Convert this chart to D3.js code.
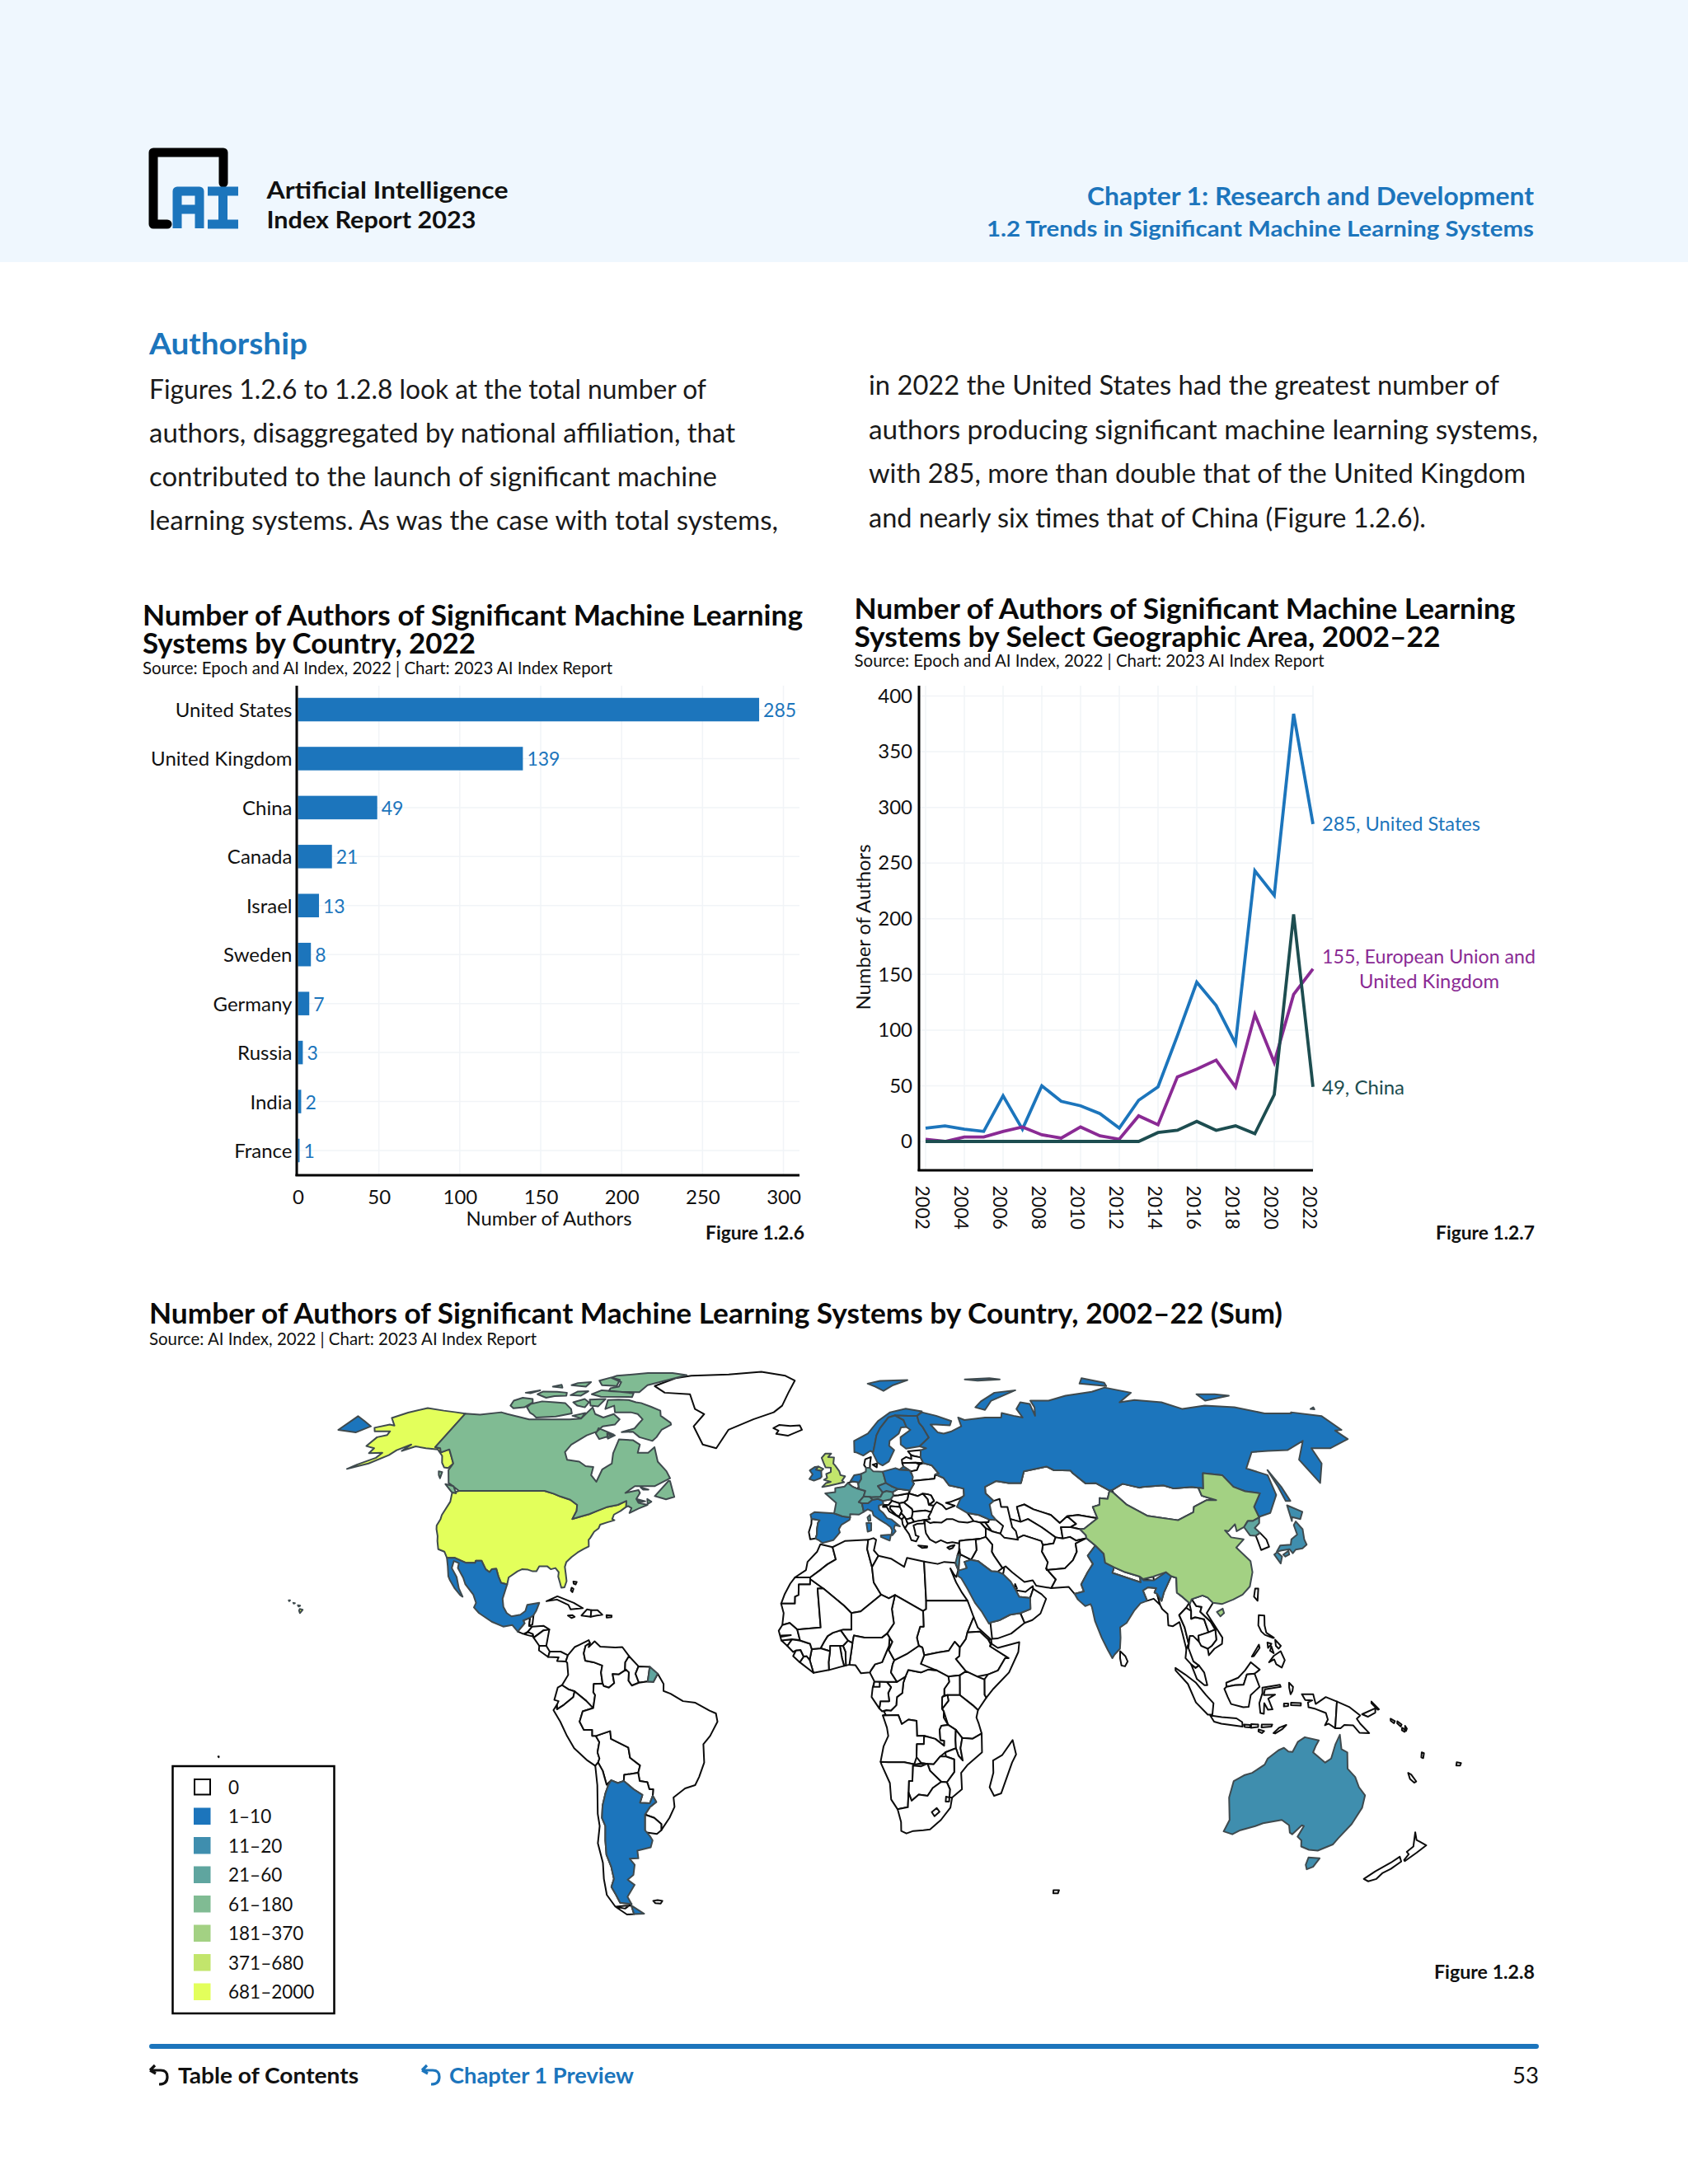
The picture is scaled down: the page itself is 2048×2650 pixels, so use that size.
<!DOCTYPE html>
<html><head><meta charset="utf-8"><title>AI Index figures</title>
<script src="https://d3js.org/d3.v7.min.js"></script>
<style>html,body{margin:0;padding:0;background:#fff}svg{display:block}text{font-family:Lato,"Open Sans",sans-serif;fill:#111;font-kerning:normal}</style>
</head><body><svg id="page" width="2048" height="2650"></svg>
<script>
// ---------- data: bar chart ----------
const barCountries=["United States","United Kingdom","China","Canada","Israel","Sweden","Germany","Russia","India","France"];
const barValues=[285,139,49,21,13,8,7,3,2,1];
const barTicks=[0,50,100,150,200,250,300];
// ---------- data: line chart ----------
const years=[2002,2003,2004,2005,2006,2007,2008,2009,2010,2011,2012,2013,2014,2015,2016,2017,2018,2019,2020,2021,2022];
const usAuthors=[12,14,11,9,41,11,50,36,32,25,12,37,49,95,143,122,88,243,221,384,285];
const euAuthors=[2,0,4,4,9,13,6,3,13,5,2,23,15,58,65,73,49,114,71,132,155];
const cnAuthors=[0,0,0,0,0,0,0,0,0,0,0,0,8,10,18,10,14,7,42,204,49];
const lineYTicks=[0,50,100,150,200,250,300,350,400];
const lineXTicks=[2002,2004,2006,2008,2010,2012,2014,2016,2018,2020,2022];
// ---------- data: map legend ----------
const legendLabels=["0","1–10","11–20","21–60","61–180","181–370","371–680","681–2000"];
const legendColors=["#ffffff","#1c75bc","#3f8eae","#5fa59f","#80bb93","#a3d183","#c2e56c","#e3ff5b"];
// ---------- data: Robinson-like projection table ----------
const robLat=[0,5,10,15,20,25,30,35,40,45,50,55,60,65,70,75,80,85,90];
const robLen=[1,.9986,.9954,.99,.9822,.973,.96,.9427,.9216,.8962,.875,.85,.815,.79,.75,.735,.71,.69,.67];
const robHgt=[0,.062,.124,.186,.248,.31,.372,.434,.4958,.5571,.6176,.6769,.7346,.7903,.8435,.8936,.9394,.9761,1];
// ---------- data: countries, [name, legend bin, rings of lon,lat ] ----------
const northAmerica=[
["United States",7,[[-124.7,48.4,-122.8,49,-95.2,49,-92,48.3,-89.5,47.6,-86,46.8,-83.3,45.5,-82.8,44,-83.2,42,-81,42.6,-78.5,43.2,-76.4,44,-73.5,45,-70.4,45.5,-68,46.5,-67.6,45,-69,44,-70.7,43.1,-70.8,42,-70,41.7,-72,41.2,-74,40.6,-74.1,39.7,-75.2,38.9,-75.9,37.3,-76.2,36.9,-75.6,35.3,-77,34.6,-78.5,33.8,-80,32.7,-81.2,31.5,-81.3,30.3,-80.6,28.5,-80,26.8,-80.3,25.3,-81.2,25.2,-81.9,26.5,-82.7,27.9,-82.8,29,-84,30,-85.3,29.7,-86.5,30.4,-88.9,30.4,-89.4,29.2,-90.5,29.2,-92,29.6,-93.8,29.7,-95,29.2,-97.2,27.7,-97.2,26,-99.1,26.4,-100.3,28,-101.4,29.8,-102.7,29.7,-103.2,29,-104.5,29.7,-106.5,31.8,-108.2,31.8,-108.2,31.3,-111,31.3,-114.8,32.5,-117.1,32.5,-118.5,34,-120.6,34.6,-121.9,36.6,-122.5,37.8,-123.8,39.5,-124.3,40.4,-124.2,42,-124.5,43,-124,46.3],
[-141,69.6,-141,60.3,-139,60,-137.5,58.9,-135.5,59.7,-133.5,58.4,-130,56,-130.5,54.8,-132,55,-134,56.2,-136,58,-139.5,59.7,-144,60,-148,60.5,-151.5,59.3,-150,61,-153.5,59.5,-154.5,58.2,-158.5,56,-164,54.6,-162,55.7,-158,57.5,-157.5,58.8,-162,58.7,-162,60,-165.3,60.6,-164,63,-161,63.6,-161,64.6,-166.5,64.6,-168,65.6,-164,66.5,-161.8,66.2,-166.5,68.4,-163,69.9,-156.6,71.3,-150,70.5,-145,70],
[-155.9,20,-155,19.8,-155.6,19,-156,19.6],[-156.7,20.9,-156,20.8,-156.4,20.6],[-158.2,21.5,-157.7,21.4,-158,21.3],[-159.7,22.1,-159.3,22.1,-159.5,21.9]]],
["Canada",4,[[-141,69.6,-135,69.3,-128,70,-125,69.5,-115,68,-108,68,-100,68,-96,68.2,-94,71.5,-92,69.5,-88,68.5,-85,69.5,-81.5,68,-82,66.5,-86,66,-87,64.5,-90,63.5,-94,61,-94.8,59,-92.5,57,-88,56.5,-85,55.3,-82.3,55.1,-82,53,-79.5,51.3,-79,54.5,-76.7,56,-78,58.7,-78,62.4,-73,62.2,-70,61,-69.6,58.8,-66,58.8,-64.6,60.3,-61.5,56.5,-57.5,54,-55.7,52.2,-60,50.2,-66.5,50.2,-69,48.5,-65,49.2,-64.3,48.5,-65,47,-64,46,-61,45.5,-63.5,44.6,-66,43.5,-65.8,44.7,-67,45.2,-67.6,45,-68,46.5,-70.4,45.5,-73.5,45,-76.4,44,-78.5,43.2,-81,42.6,-83.2,42,-82.8,44,-83.3,45.5,-86,46.8,-89.5,47.6,-92,48.3,-95.2,49,-122.8,49,-125,50,-127.5,51,-130,54.3,-130,56,-133.5,58.4,-135.5,59.7,-137.5,58.9,-139,60,-141,60.3],
[-128.3,50.7,-125.3,50.2,-123.4,48.4,-125,48.7],[-59.3,47.7,-56,51.5,-55.5,51.5,-53,47.5,-55.5,46.9],[-133,54,-131.7,53.8,-131.2,52.2,-132.2,53],[-64.5,49.9,-61.8,49.3,-63.5,49.3],[-64.5,46.9,-62,46.4,-63.5,46.2],[-61.5,47,-60,46.3,-61,45.7],
[-89,73.7,-85,73.8,-81,73.7,-78,73,-76,72.8,-72,71.7,-68,70.5,-67,69,-62,67,-61.5,66.5,-64,65,-65,63,-66,62,-71,63,-74,64.5,-78,64.4,-74,65.4,-73.5,66.8,-73,68,-76,69.5,-79,70,-85,70,-86,72,-89,71],
[-117,69.9,-115,69.3,-113,68.5,-106,68.8,-101,69.7,-102,71,-105,72.8,-109,73,-114,73.3,-118,72.5,-119,71.5],[-125.5,72,-124,71.2,-120,71.5,-117.5,73,-118,74,-122,74.4,-125,73.5],
[-90,76.5,-85,76.3,-78,76.2,-76,78.5,-68,80.5,-62,82.3,-68,83.1,-78,83.1,-90,82,-92,81.2,-87,79.5,-87,78,-90,77.5],[-96,75.5,-92,74.7,-80,74.6,-80,75.8,-88,76.5,-93,76.8],[-96,80,-94,78.5,-88,78.2,-88,80.3,-92,81.3],
[-117,75.5,-115.5,76.4,-110,76.3,-106,76,-105.5,75,-110,74.9,-113,74.4],[-122,76,-117,76.8,-120,75.8],[-104,75.2,-100,75,-98,76.5,-102,76.4],[-102,73,-98,74,-96,73,-97,71.5,-100,72],[-96,73.8,-90,74,-92,71.8,-95,72],[-87,65.5,-80.5,63.7,-85,62.5,-87,64],[-106,78.5,-100,78,-99,79.5,-104,79.2],[-100,69,-96,69.8,-96,68.3],[-83,64,-80,63.5,-82,62.6],[-113,78,-109,77.7,-110,78.6]]],
["Greenland",0,[[-73,78.2,-66,81,-60,82,-45,82.5,-32,83.6,-22,82,-18,80,-20,76,-22,72,-25,70,-32,68,-40,65,-43,60,-48,61,-53,66,-51,69.5,-55,71,-58,75.5,-68,76]]],
["Mexico",1,[[-117.1,32.5,-114.8,32.5,-111,31.3,-108.2,31.3,-108.2,31.8,-106.5,31.8,-104.5,29.7,-103.2,29,-102.7,29.7,-101.4,29.8,-100.3,28,-99.1,26.4,-97.2,26,-97.8,22.5,-97.2,20.5,-96,19,-94.5,18.2,-92,18.6,-90.7,19.5,-90.4,21,-87,21.5,-87.6,19.5,-88.2,18.5,-89.1,17.9,-91,17.2,-90.5,16.5,-92.2,14.5,-94,16.1,-96.5,15.7,-100,16.9,-104,19,-105.7,20.4,-105.3,21.5,-106.5,23.5,-109.4,26,-110.5,27.6,-112.8,30,-113,31.2,-114.7,31.7,-114.6,30,-112.5,27.8,-111,25,-109.5,23,-110.3,23.4,-112.2,25,-114.2,27,-115,28,-116,30.5]]],
["Guatemala",0,[[-92.2,14.5,-90.5,13.9,-89.3,14.4,-88.2,15.7,-89.1,15.9,-89.1,17.9,-91,17.2,-90.5,16.5]]],
["Belize",0,[[-89.1,17.9,-88.2,18.5,-88.2,16.2,-89.1,15.9]]],
["El Salvador",0,[[-90.1,13.8,-87.8,13.3,-87.8,13.9,-89.3,14.4]]],
["Honduras",0,[[-89.3,14.4,-87.8,13.9,-87.5,13,-84.8,14.8,-83.2,15,-85,15.9,-88.2,15.7]]],
["Nicaragua",0,[[-87.5,13,-85.7,11,-83.7,11,-83.2,15,-84.8,14.8]]],
["Costa Rica",0,[[-85.7,11,-83.7,11,-82.6,9.6,-83,8.3,-85.7,9.9]]],
["Panama",0,[[-83,8.3,-82.6,9.6,-79.5,9.6,-77.4,8.7,-77.9,7.2,-80.4,7.3,-80,8.2]]],
["Cuba",0,[[-85,21.9,-82,23.1,-77,21.5,-74.2,20.2,-77.7,19.9,-78.5,21,-82,22.3]]],
["Haiti",0,[[-74.4,18.4,-73,19.9,-71.7,19.7,-71.7,18.1]]],["Dominican Republic",0,[[-71.7,19.7,-69.9,19.7,-68.4,18.6,-70,18.4,-71.7,18.1]]],
["Jamaica",0,[[-78.3,18.4,-77,18.5,-76.3,18.1,-77.2,17.8]]],["Puerto Rico",0,[[-67.2,18.5,-65.7,18.4,-65.7,18,-67.1,17.9]]],["Bahamas",0,[[-78,26.7,-77,26.6,-77.2,26,-77.8,26.2],[-78.2,25.2,-77.6,24.9,-77.8,24.1,-78.3,24.5]]]];
const southAmerica=[
["Colombia",0,[[-77.4,8.7,-75.6,10.7,-74.2,11.3,-71.7,12.4,-71.3,11.7,-72.5,11,-72.9,9.2,-72.4,7.4,-70,7,-67.5,6.2,-67.8,4.5,-67.3,1.8,-69.8,1.7,-69.9,-0.3,-69.4,-1,-70,-4.2,-72,-2.4,-75.2,-0.1,-77,0.4,-78.8,1.4,-77.1,3.9,-77.5,6.9,-77.9,7.2]]],
["Venezuela",0,[[-71.3,11.7,-71.6,10.7,-70,12.1,-68.3,10.8,-64,10.6,-62,10.7,-60,8.5,-61,7,-61,5.2,-60.7,5.2,-62.8,4,-64.5,4.1,-64,1.9,-65.5,.8,-67,1.2,-67.3,1.8,-67.8,4.5,-67.5,6.2,-70,7,-72.4,7.4,-72.9,9.2,-72.5,11]]],
["Guyana",0,[[-60,8.5,-57.2,6,-58,4.2,-57,2,-59,1.3,-60,2.5,-59.9,4.5,-61,5.2,-61,7]]],
["Suriname",0,[[-57.2,6,-54,5.9,-54.5,2.3,-57,2,-58,4.2]]],
["French Guiana",3,[[-54,5.9,-51.7,4.2,-52.9,2.2,-54.5,2.3]]],
["Ecuador",0,[[-78.8,1.4,-77,.4,-75.2,-.1,-75.6,-1.5,-78.3,-3.4,-80.3,-4.5,-80.3,-3.4,-79.8,-2.5,-81,-2.2,-80,.8]]],
["Peru",0,[[-81.3,-4.7,-80.3,-3.4,-80.3,-4.5,-78.3,-3.4,-75.6,-1.5,-75.2,-.1,-72,-2.4,-70,-4.2,-73,-5,-74,-7.5,-72.9,-9.5,-70.5,-9.5,-70.6,-11,-69.6,-11,-68.7,-12.5,-69.4,-15,-69,-16.5,-69.5,-17.5,-70.4,-18.3,-72.5,-17,-76,-14,-77.8,-11,-79.5,-7.5]]],
["Bolivia",0,[[-69.6,-11,-68.7,-12.5,-69.4,-15,-69,-16.5,-69.5,-17.5,-68.4,-19.5,-67.7,-22.9,-66.2,-21.8,-64.4,-22.5,-62.6,-22,-62.3,-20.5,-58.2,-20,-57.5,-18.2,-60.2,-16.3,-60.5,-13.8,-65.3,-11.7,-65.4,-9.8]]],
["Brazil",0,[[-51.7,4.2,-50,1.7,-50,0,-48,-.7,-44.5,-2.5,-41,-2.9,-37,-4.8,-35.2,-5.5,-34.8,-7.5,-37,-11,-39,-13,-39,-17.5,-40.7,-21,-42,-23,-45,-23.8,-48.6,-26,-48.6,-28.3,-50.5,-31,-53.5,-34,-53.2,-32.5,-55,-31,-57.6,-30.2,-55.9,-28.4,-53.8,-27.1,-54.6,-25.6,-54.3,-24,-55.4,-24,-55.8,-22.3,-58,-22,-58.2,-20,-57.5,-18.2,-60.2,-16.3,-60.5,-13.8,-65.3,-11.7,-65.4,-9.8,-69.6,-11,-70.6,-11,-70.5,-9.5,-72.9,-9.5,-74,-7.5,-73,-5,-70,-4.2,-69.4,-1,-69.9,-.3,-69.8,1.7,-67.3,1.8,-67,1.2,-65.5,.8,-64,1.9,-64.5,4.1,-62.8,4,-60.7,5.2,-59.9,4.5,-60,2.5,-59,1.3,-57,2,-54.5,2.3,-52.9,2.2]]],
["Paraguay",0,[[-62.6,-22,-62.3,-20.5,-58.2,-20,-58,-22,-55.8,-22.3,-55.4,-24,-54.3,-24,-54.6,-25.6,-55.7,-27.4,-58.6,-27.3,-57.6,-25.4,-60,-24]]],
["Uruguay",0,[[-58.4,-34,-57.6,-30.2,-55,-31,-53.2,-32.5,-53.5,-34,-55,-34.9,-58.4,-34.5]]],
["Chile",0,[[-69.5,-17.5,-70.4,-18.3,-70.4,-23,-71.5,-30,-71.7,-33,-73.5,-37.2,-73.7,-42,-75,-46,-75.5,-50,-74,-53,-71,-53.5,-68.4,-52.3,-72,-52,-72.5,-50,-73.3,-48,-71.8,-46,-71.5,-43,-71.8,-40,-71,-36.5,-70,-33,-70.5,-31,-69.7,-28,-68.3,-25,-67.2,-23,-67.7,-22.9,-68.4,-19.5],[-68.6,-52.7,-68.6,-54.9,-71,-55,-74,-53,-71,-52.8]]],
["Argentina",1,[[-66.2,-21.8,-64.4,-22.5,-62.6,-22,-60,-24,-57.6,-25.4,-58.6,-27.3,-55.7,-27.4,-54.6,-25.6,-53.8,-27.1,-55.9,-28.4,-57.6,-30.2,-58.4,-34,-57.2,-35.5,-56.7,-36.5,-57.7,-38.2,-62,-39,-62.3,-40.9,-65,-41,-64,-42.5,-65.3,-45,-67.5,-46.2,-65.7,-47.5,-69,-50.5,-68.4,-52.3,-72,-52,-72.5,-50,-73.3,-48,-71.8,-46,-71.5,-43,-71.8,-40,-71,-36.5,-70,-33,-70.5,-31,-69.7,-28,-68.3,-25,-67.2,-23],[-68.6,-52.7,-65.2,-54.8,-68.6,-54.9]]],
["Falkland Islands",0,[[-61,-51.5,-59.5,-51.3,-58,-51.5,-58.8,-52.2,-60.5,-52.1]]]];
const europe=[
["Iceland",0,[[-24,65.5,-22,66.4,-18,66.1,-14.6,66.3,-13.6,65,-18.5,63.4,-22.7,63.9,-22,64.8]]],
["United Kingdom",6,[[-5.7,50,-3.5,50.3,1.4,51.2,.7,51.6,1.7,52.7,.2,53,-.2,54,-1.6,55.5,-2.2,56,-2,57.6,-4,57.7,-3,58.6,-5,58.6,-6.2,57.5,-5.5,56.2,-4.8,55,-3,54.9,-3,53.8,-4.5,53.3,-4.2,52.3,-5.2,51.8,-3,51.3,-4.5,51],[-7.2,55.2,-5.5,54.6,-6.2,54.1,-8,54.4]]],
["Ireland",1,[[-10,52,-9,53.2,-10,54.2,-8.3,55.1,-7.2,55.2,-8,54.4,-6.2,54.1,-6,52.6,-6.5,52.2,-8.5,51.6]]],
["Portugal",0,[[-8.8,42,-8.2,42,-6.3,41.7,-6.8,41,-7,39.6,-7,38.2,-7.4,37.2,-9,37,-9.5,38.8,-8.8,40.8]]],
["Spain",1,[[-9.2,43.1,-8,43.7,-1.8,43.4,.7,42.7,3.2,42.4,3,41.8,.5,40.6,-.3,39.5,0,38.7,-2,36.8,-5.3,36.1,-6.4,36.8,-7.4,37.2,-7,38.2,-7,39.6,-6.8,41,-6.3,41.7,-8.2,42,-8.8,42]]],
["France",3,[[-1.8,43.4,-1.2,46,-4.7,48.4,-1.5,48.7,-1.5,49.7,1.5,50.1,2.6,51,4.2,50,5.8,49.5,8.2,49,7.6,47.6,6,46.2,7,45.9,7.5,43.8,6,43.1,3.2,43.2,3.2,42.4,.7,42.7]]],
["Belgium",0,[[2.6,51,4.2,51.4,5.9,51.2,6.1,50.2,5.8,49.5,4.2,50]]],
["Netherlands",1,[[3.4,51.4,4.7,53,7,53.3,7,52,6,50.8,5.9,51.2,4.2,51.4]]],
["Germany",3,[[6,50.8,7,52,7,53.3,8.6,53.9,8.7,54.9,10,54.8,11,54,14.2,53.9,14.6,52.5,15,51,12.3,50.2,13.8,48.6,13,47.5,10,47.4,7.6,47.6,8.2,49,6.2,49.5]]],
["Switzerland",3,[[6,46.2,7.6,47.6,9.6,47.5,10.4,46.8,9,45.9,7,45.9]]],
["Italy",1,[[7,45.9,9,45.9,10.4,46.8,12.2,47,13.7,46.5,13.7,45.7,12.3,45.3,12.4,44.3,13.6,43.5,14.7,42.2,16.1,41.9,18.5,40.2,17,40.5,16.6,39.7,17.1,39,16,38,15.7,38.1,16,39.2,15.6,40,14.2,40.9,12.4,41.8,10.5,42.9,10.2,43.9,8.8,44.4,7.5,43.8],[12.5,38,15.6,38.2,15.1,36.7,12.5,37.6],[8.2,41,9.7,41,9.6,39.2,8.5,38.9]]],
["Corsica",3,[[8.6,42.4,9.4,43,9.5,41.6,8.9,41.5]]],
["Austria",3,[[9.6,47.5,10,47.4,13,47.5,13.8,48.6,15,49,17,48.7,17.1,47.8,16.2,46.9,13.7,46.5,12.2,47,10.4,46.8]]],
["Czechia",2,[[12.3,50.2,15,51,16.7,50.2,18.8,49.5,17,48.7,15,49,13.8,48.6]]],
["Poland",1,[[14.2,53.9,18.5,54.8,19.8,54.4,23.2,54.2,24,52.5,23.6,51.5,24.1,50.8,22.6,49.1,18.8,49.5,16.7,50.2,15,51,14.6,52.5]]],
["Denmark",0,[[8.1,55.6,8.6,57.1,10.6,57.7,10.2,56.3,10,54.8,8.7,54.9],[11,55.7,12.5,56,12.3,55]]],
["Norway",1,[[5,59,5,62,10,64,14,67.5,19,70,25,71.1,31,70.3,28.9,69,25.7,69,20.6,69.1,18,68.5,14.5,65.5,13,63.5,12.2,61,11.5,59,10.5,59.3,8,58.1,5.7,58.9],[11,79,16,79.9,27,80.2,21,78.5,17,76.6,14,78]]],
["Sweden",1,[[11.2,59,12.7,56.2,14.3,55.5,16.5,56.5,18.8,59.5,17.2,60.7,17.5,62,21,64,22.1,65.7,24.1,65.8,23.5,67.8,20.6,69.1,18,68.5,14.5,65.5,13,63.5,12.2,61,11.5,59]]],
["Finland",1,[[20.6,69.1,25.7,69,28.9,69,29,67,30,65.7,31.5,62.9,27.8,60.5,23,59.9,21.3,61,21.5,63,25.3,65,24.1,65.8,23.5,67.8]]],
["Estonia",0,[[23.5,59.2,28,59.5,27.5,57.6,25,58,24.3,58.3]]],
["Latvia",0,[[21,57,22.6,57.7,24.3,57.2,24.3,58.3,25,58,27.5,57.6,28.1,56.1,25.6,56.2,21,56.1]]],
["Lithuania",0,[[21,56.1,25.6,56.2,26.6,55.7,25.6,54.3,23.5,53.95,22.8,54.4,21.2,55.2]]],
["Belarus",0,[[23.5,53.95,25.6,54.3,26.6,55.7,28.1,56.1,30.8,55.5,32.7,53.4,31.5,53.2,31,52.1,23.6,51.5,23.9,52.7]]],
["Ukraine",0,[[24.1,50.8,23.6,51.5,31,52.1,31.5,53.2,34,52.3,35.5,50.4,40,49.6,39.8,47.8,38.2,47.1,35,46.2,33.7,46,36.4,45.3,33.5,44.4,32.5,45.4,30.8,46.2,29.7,45.3,28.2,45.5,30,46.5,29.2,47.9,28,48.2,26.6,48.3,24.9,47.7,22.1,48.4,22.6,49.1]]],
["Moldova",0,[[26.6,48.3,28,48.2,29.2,47.9,30,46.5,28.2,45.5,28,46.9]]],
["Romania",0,[[22.1,48.4,24.9,47.7,26.6,48.3,28,46.9,28.2,45.5,29.7,45.3,28.6,43.7,27,44.1,22.9,43.8,22.7,44.5,20.3,46.1,21.5,46.8]]],
["Hungary",0,[[16.2,46.9,17.1,47.8,18.8,47.9,22.1,48.4,21.5,46.8,20.3,46.1,18.9,45.9,16.6,46.5]]],
["Slovakia",0,[[17,48.7,18.8,49.5,22.6,49.1,22.1,48.4,18.8,47.9,17.1,47.8]]],
["Slovenia",0,[[13.7,46.5,16.2,46.9,16.6,46.5,15.5,45.5,13.7,45.5]]],
["Croatia",0,[[13.7,45.3,14.5,45.3,15.5,45.5,16.6,46.5,18.9,45.9,19,45,16,45.2,15.8,44.6,17.6,43,18.5,42.4,15.5,43.9,14.8,45,13.6,45]]],
["Bosnia",0,[[15.8,44.6,16,45.2,19,45,19.5,44,18.5,42.6,17.6,43]]],
["Serbia",0,[[18.9,45.9,20.3,46.1,22.7,44.5,22.9,43.8,22.4,42.3,20.6,41.9,20.1,42.6,19.2,43.5,19.5,44,19,45]]],
["Montenegro",0,[[18.5,42.6,19.2,43.5,20.1,42.6,19.3,41.9,18.5,42.4]]],
["Albania",0,[[19.3,41.9,20.1,42.6,20.6,41.9,21,40.8,20,39.7,19.4,40.7]]],
["North Macedonia",0,[[20.6,41.9,22.4,42.3,23,41.3,21,40.8]]],
["Bulgaria",0,[[22.9,43.8,27,44.1,28.6,43.7,27.6,42.5,28,42,26.3,41.8,24,41.5,23,41.3,22.4,42.3]]],
["Greece",0,[[20,39.7,21,40.8,23,41.3,24,41.5,26.3,41.8,26,40.9,23.8,40.8,22.7,40.4,23,39,23.1,38,24,37.7,23.1,36.5,21.7,36.8,21.1,38.3],[23.6,35.5,26.3,35.3,26.2,35,24.7,34.9]]],
["Cyprus",0,[[32.3,35,33.5,35.4,34.6,35.6,33.9,34.9,32.9,34.6]]]];
const asia=[
["Russia",1,[[28.9,69,31,70,36,69,41,67.5,40,66.3,35,66.5,33,66.5,35,64.3,37,64,40,64.6,44,66,44,68.5,46,67.8,54,68.5,60,68.5,61,69.8,65,69,68,68.5,67,71,69,73,72.5,72.5,73,69,74,71.5,73,73.5,80,73.5,87,75,98,76.3,104,77.7,113,76,107,73,113,73.7,123,73,130,71,139,72,150,71.5,160,69.7,170,69.7,170.5,70,180,68.9,180,65,177.5,64.8,179.4,62.5,170.5,60,164,60,163,58,162,56,156.5,51,155.7,57,163,62,155,59.5,148,59.3,142,59,135.3,54.7,141,53,140,48,135,43.5,131,42.6,130.7,42.4,131,45,135,48.4,130.6,48.9,127.5,50,126,53,120,53.5,117.5,49.6,114,50,108,49.6,105,50.4,98,50,97,49.8,92,50.8,87.8,49.2,87,49.1,83.3,51,80,50.9,77,53.5,76.5,54.2,71,54.3,69,55.2,61,54,59,51,55,51,51,51.5,47,50,46.8,48.4,49,46.5,47.5,45.6,47.5,43,48.5,41.8,46.4,41.9,43.5,43,40,43.5,37,45,38.5,47,39.8,47.8,40,49.6,35.5,50.4,34,52.3,31.5,53.2,32.7,53.4,30.8,55.5,28.1,56.1,27.5,57.6,28,59.5,30,60,27.8,60.5,31.5,62.9,30,65.7,29,67],
[19.8,54.4,22.8,54.4,21.2,55.2],[51.5,71.5,55,70.7,58,73.5,68.5,76.8,60,76,54,73.3],[50,80.5,60,81,64,80.5,55,80],[95,79,105,78.2,105,79.3,97,81],[138,75.5,145,75.5,150,75,140,73.5],[178.6,71,180,71.5,180,70.9],[142,54.3,143,50,143.5,46.5,142,46.5,142,50],[-180,68.9,-175,67.5,-170,66,-173,64.3,-180,65]]],
["Georgia",0,[[40,43.5,43.5,43,46.4,41.9,46,41.2,43.5,41.1,41.5,41.5]]],
["Armenia",0,[[43.5,41.1,45,41.2,46.5,39,44.8,39.7]]],
["Azerbaijan",0,[[46,41.2,46.4,41.9,48.5,41.8,50.3,40.3,49,38.4,46.5,39,45,41.2]]],
["Turkey",0,[[26.3,41.8,28,41,29.1,41.2,31.4,41.1,33.3,42,35,42,36.9,41.3,39.5,41.1,41.5,41.5,43.5,41.1,44.8,39.7,44.4,37.6,42.4,37.1,38,36.8,36.2,36.6,36,36,34,36.3,32.5,36.1,30.6,36.8,29,36.2,27.3,37,26.3,38.5,26.2,39.5,26.2,40]]],
["Kazakhstan",0,[[47,50,51,51.5,55,51,59,51,61,54,69,55.2,71,54.3,76.5,54.2,77,53.5,80,50.9,83.3,51,87,49.1,85.5,47,83,47.2,82.3,45.5,80,45,80.2,42.2,74.5,43,71,42.7,68,41,66,43,61,44.4,58.5,45.6,56,45,56,41.3,53,42,53,45,51,45,51,47,49,46.5,46.8,48.4]]],
["Uzbekistan",0,[[56,45,58.5,45.6,61,44.4,66,43,68,41,71,42.7,73,40.8,71,40,68,40,67.7,37.2,65.6,37.5,62,40,58.5,42,56,41.3]]],
["Turkmenistan",0,[[53,42,56,41.3,58.5,42,62,40,65.6,37.5,64.5,36,61.2,35.6,61,36.6,56,38,54,37.3,53.9,39,53,40]]],
["Kyrgyzstan",0,[[71,42.7,74.5,43,80.2,42.2,75,39.6,73.7,39.5,71,40,73,40.8]]],
["Tajikistan",0,[[68,40,71,40,73.7,39.5,75,38,74.9,37.3,71.6,36.7,70,37.6,67.7,37.2]]],
["Afghanistan",0,[[61.2,35.6,64.5,36,65.6,37.5,67.7,37.2,70,37.6,71.6,36.7,74.9,37.3,71.2,36,71,34,69.3,31.9,66.4,29.9,61,29.5,60.9,31.5,61.7,31.4,60.5,34]]],
["Iran",0,[[44.8,39.7,46.5,39,49,38.4,50,37.4,54,36.9,54,37.3,56,38,61,36.6,61.2,35.6,60.5,34,61.7,31.4,60.9,29.9,63.3,27.2,61.6,25.1,57.3,25.7,56.5,27,54,26.6,50.8,28.9,49,30.4,48,30,46,33,45.5,34,46,35.7,44.4,37.6]]],
["Iraq",0,[[42.4,37.1,44.4,37.6,46,35.7,45.5,34,46,33,48,30,48.5,29.9,46.5,29.1,44.7,29.2,41,31.7,39,32,41,34.4,41.2,37]]],
["Syria",0,[[36.2,36.6,38,36.8,42.4,37.1,41.2,37,41,34.4,39,32,36,33.3,35.8,34.6]]],
["Lebanon",0,[[35.1,33.1,35.8,33.3,36,34.6,35.9,34.6]]],
["Israel",2,[[34.3,31.3,34.9,29.5,35.5,32,35.8,33.3,35.1,33.1]]],
["Jordan",0,[[35,29.4,36,29.2,37.5,30,37,31.5,39,32,36,33.3,35.5,32]]],
["Saudi Arabia",1,[[34.6,28.1,35,29.4,37.5,30,37,31.5,39,32,41,31.7,44.7,29.2,46.5,29.1,48,28.5,50,26.7,51.2,24.6,52,23,55.2,22.7,55,20,52,19,49,18.6,46,17.3,43.2,16.7,42.8,16.4,40.8,19.5,39.1,21.5,37.2,24.9,35.6,27.5]]],
["Kuwait",0,[[46.5,29.1,48,30,48.5,29.9,48,28.5]]],
["Qatar",0,[[50.8,24.7,51.2,26.1,51.6,25]]],
["United Arab Emirates",0,[[51.2,24.6,54,24.2,56.3,25.6,56.3,24.9,55.2,22.7,52,23]]],
["Oman",0,[[56.3,24.9,58.6,23.6,59.8,22.5,57.8,18.9,55.3,17.3,53,16.6,52,19,55,20,55.2,22.7]]],
["Yemen",0,[[43.2,16.7,46,17.3,49,18.6,52,19,53,16.6,49,14,45,12.8,43.5,12.7]]],
["Pakistan",0,[[61,29.5,66.4,29.9,69.3,31.9,71,34,71.2,36,74.9,37.3,77,35.5,74,33,75,31,73,29,70.5,26,71,24.3,68.2,23.7,66.7,25.4,61.6,25.1,63.3,27.2,60.9,29.9]]],
["India",1,[[77,35.5,78.9,33.5,78.7,31.3,81,30.2,80.2,28.8,88,26.5,88.1,27.9,89,27,92,27,96,29,97.3,28,94.2,24,93.2,22,92.2,23.7,91.5,24,92.2,25.1,89.8,25.3,88.2,24.5,89,22,87,21.4,85,19.7,82.3,16.6,80.3,15.5,80.2,13,79.8,10.3,78.2,8.9,77.5,8,76.3,10,74.8,13,73.3,17,72.8,20.5,72.5,21.2,70.9,20.7,69,22.3,68.2,23.7,71,24.3,70.5,26,73,29,75,31,74,33]]],
["Bangladesh",0,[[88.2,24.5,89.8,25.3,92.2,25.1,91.5,24,92.2,23.7,92.6,21,91,22.5,89,22]]],
["Nepal",0,[[80.2,28.8,81,30.2,84,29,88.1,27.9,88,26.5]]],
["Bhutan",0,[[88.9,27.3,92,27.9,92,26.8]]],
["Sri Lanka",0,[[79.8,9.7,81.2,8.5,81.8,7.2,81,6,80,6.2,79.7,8]]],
["China",5,[[73.7,39.5,75,39.6,80.2,42.2,80,45,82.3,45.5,83,47.2,85.5,47,87,49.1,88,48.5,91,45.5,96,42.8,105,41.7,111,43.7,112,45,117,46.7,120,46.7,116,47.8,116,49.8,117.5,49.6,120,53.5,126,53,127.5,50,130.6,48.9,135,48.4,131,45,130.7,42.4,128,41.5,126.5,41.5,124.3,40,121.5,39,122,40.7,119,39,118,39.2,119,37.5,122.5,37,119.2,35,122,31.7,121.5,29,119.6,25.5,117,23.5,114,22.3,110.5,21.2,108,21.5,106.7,22.8,105.3,23.3,102,22.4,101.3,21.3,99.5,22.9,98,24,98.7,27.6,97.3,28,96,29,92,27.9,88.9,27.3,88.1,27.9,84,29,81,30.2,78.7,31.3,78.9,33.5,77,35.5,74.9,37.3,75,38],[108.7,19.3,110.5,20.1,110.7,19,109.5,18.2]]],
["Mongolia",0,[[87.8,49.2,88,48.5,91,45.5,96,42.8,105,41.7,111,43.7,112,45,117,46.7,120,46.7,116,47.8,116,49.8,114,50,108,49.6,105,50.4,98,50,97,49.8,92,50.8]]],
["Taiwan",0,[[120.2,23,121,25,121.9,25,121,22]]],
["North Korea",3,[[124.3,40,126.5,41.5,128,41.5,130.7,42.4,129.7,41,127.5,39.8,128.4,38.6,126.7,37.9,125,38]]],
["South Korea",0,[[126.7,37.9,128.4,38.6,129.4,37,129.2,35.2,126.4,34.4,126.6,36.7]]],
["Japan",2,[[130.9,34,132.7,35.5,136,35.7,137,37,139.5,38.2,140,40.5,141.3,41.4,142,39.5,140.9,37,140.8,35.7,139,34.8,136.8,34.5,135.5,33.6,135,34.6,132.5,34.3],[140.2,41.5,141.7,45.4,145.3,43.8,143.2,42,141,42.5],[129.8,33.3,131,33.9,131.9,32.8,130.7,31.1,130.2,32.3],[132.5,33.3,134.5,34.2,134.3,33.3,132.9,32.8]]],
["Myanmar",0,[[92.6,21,92.2,23.7,93.2,22,94.2,24,97.3,28,98.7,27.6,98,24,99.5,22.9,101.1,21.5,100,20.3,97.7,18.5,98.8,15.5,99.5,11.5,98.7,10.2,98,14,97.5,16.8,95.5,15.8,94.2,16,94.4,18.8,93,20]]],
["Thailand",0,[[100,20.3,101.3,19.5,101,17.6,102.2,18,104.7,17.5,105.5,14.3,102.5,13.5,102.5,12,101,13.4,100,13.4,99.3,10.5,100.5,7.2,102,6.2,101,5.6,99.8,6.5,98.3,8,98.7,10.2,99.5,11.5,98.8,15.5,97.7,18.5]]],
["Laos",0,[[101.1,21.5,102,22.4,103,20.7,104.5,20.5,103.9,19.3,106.5,16.9,107.5,15,105.5,14.3,104.7,17.5,102.2,18,101,17.6,101.3,19.5]]],
["Vietnam",0,[[102,22.4,105.3,23.3,106.7,22.8,108,21.5,105.7,19,107,16.8,109.3,13,109,11.5,106.7,10.3,105,8.7,104.8,10.3,106,11,107.5,12.5,107.5,15,106.5,16.9,103.9,19.3,104.5,20.5,103,20.7]]],
["Cambodia",0,[[102.5,13.5,105.5,14.3,107.5,15,107.5,12.5,106,11,104.8,10.3,103,11,102.5,12]]],
["Malaysia",0,[[99.8,6.5,101,5.6,102,6.2,103.4,4.5,104.2,1.4,103.4,1.4,101.3,2.9,100.4,5],[109.6,2,111.3,2.6,113,3.2,115,5,116.8,7,119.2,5.2,117.7,4.2,115.5,4,114.5,1.5,112,1.4,109.6,1]]],
["Indonesia",0,[[109.6,1,112,1.4,114.5,1.5,115.5,4,117.7,4.2,119,1,116.5,-1,116,-3.9,114.5,-4,111,-3.2,110,-1.5,109,.5],[95.3,5.6,98,4,101,2,103.8,-1,106,-3,105.8,-5.8,104.5,-5.8,101,-2.8,98.7,1.7,95.3,5],[105.2,-6,108.5,-6.4,112.7,-6.7,114.4,-7.6,114.6,-8.7,108.5,-8,106.4,-7.5],[119.8,.8,124.8,1.5,125,1,120.5,.4,120.2,-1,123.4,-.9,121.5,-1.9,122.8,-4.5,121.5,-4.6,120.4,-3,120.4,-5.6,119.4,-5.4,119,-3,119.8,-.5],[115,-8.2,116.8,-8.3,116.7,-8.9,115.2,-8.8],[117,-8.1,119,-8.2,119,-8.8,117,-9],[120,-8.2,123,-8.2,122.8,-8.7,120,-8.9],[123.5,-10.3,125,-9,127,-8.3,126,-9.3,124,-10.4],[119.2,-9.4,120.8,-9.8,120.2,-10.3,119.2,-9.9],[127.4,2,128.5,1,128.3,0,127.8,-.8,127.4,.8],[128,-2.9,130.8,-3,130.8,-3.6,128,-3.5],[126,-3.1,127.2,-3.1,127.2,-3.7,126,-3.8],[131,-.8,134.2,-.8,135,-3.2,137.8,-1.5,141,-2.6,141,-9.1,139,-8,138,-8.4,138.7,-7,138,-5.4,135,-4.4,133,-4,132.8,-2.8,134,-2.3,132,-2.2]]],
["Philippines",0,[[120.6,18.5,122.2,18.4,121.8,16,122,14.2,124,13,123.8,12.9,121.5,13.7,120.6,14.5,120,16],[122,7,123.5,8.6,125.5,9.7,126.5,7.5,125.5,5.7,124,6.5,123.5,7.7],[124.3,12.5,125.7,11,125,10.3,124.3,11],[122,11.8,123.1,11.5,122,10.5],[123,10.9,123.5,9.2,122.5,9.8],[117.2,8.4,119.5,11.3,119.6,10.5,117.8,8.5]]]];
const oceania=[
["Australia",2,[[113.7,-26,114.1,-22,116.8,-20.6,119,-20,122.2,-18,122.8,-16.5,125.5,-14.5,127,-13.9,128.4,-14.8,129.6,-14.9,130.8,-12.4,132.6,-11.3,136.7,-12.1,136,-13.5,135.5,-15,139.5,-17.5,141,-16.5,141.6,-13,142.5,-10.7,143.5,-14.2,145.3,-15,146.3,-19,149,-21,150.8,-23.5,153.2,-25.5,153.6,-28.5,152.5,-32.5,150.5,-36,149.9,-37.5,146.3,-39,143.5,-38.8,140.6,-38,139.7,-36.5,138,-35.6,138.5,-33,137.8,-32.8,136,-35,135.1,-34.6,134,-32.8,131.2,-31.5,126,-32.3,124,-33,120,-34,118,-35,115.1,-34.3,115.7,-31.5,114.2,-27.5],[144.7,-40.7,148.3,-40.9,148,-43,146.5,-43.6,145.3,-42.5]]],
["New Zealand",0,[[172.7,-34.5,174.5,-36.4,175.8,-36.8,178.5,-37.7,177,-39.5,175.3,-41.6,174.8,-41.3,174.9,-39.9,173.8,-39.3,174.8,-38],[172.7,-40.5,174.3,-41.7,172.8,-43.5,171.2,-44.5,170.5,-46,168.4,-46.6,166.5,-46,168.5,-44.1,171.3,-42]]],
["Papua New Guinea",0,[[141,-2.6,144.5,-3.9,147.8,-6,146.9,-6.8,148,-8,150.8,-10.3,148,-10.2,146,-8.4,143.5,-8.3,142.5,-9.1,141,-9.1],[148.3,-5.7,152,-4.2,152,-5.3,150,-6.3],[150.8,-2.6,153,-4.5,152.7,-4.6,150.8,-3]]],
["Solomon Islands",0,[[156.5,-6.8,157.8,-7.4,157.6,-7.9,156.6,-7.3],[158.5,-7.4,159.8,-8.2,159.6,-8.7,158.5,-7.9],[160,-9,160.9,-9.5,160.8,-10,160,-9.6],[160.8,-8.5,161.4,-9.2,161.2,-9.8,160.9,-9.2]]],
["Vanuatu",0,[[166.6,-15,167.3,-15.2,167.4,-16.4,166.8,-16.2]]],
["New Caledonia",0,[[164,-20,165,-20.4,167,-22.1,166.5,-22.4,165,-21.5]]],
["Fiji",0,[[177.3,-17.4,178.6,-17.6,178.5,-18.2,177.4,-18.2]]],
["Kerguelen",0,[[68.8,-48.8,70.6,-48.8,70.5,-49.6,69,-49.6]]],
["Tonga",0,[[-178.3,-16,-178.1,-16,-178.2,-16.2]]]];
const africa=[
["Morocco",0,[[-5.9,35.8,-2.2,35.1,-1.2,32.1,-3.7,30.9,-5.5,29.7,-8.7,27.7,-13.2,27.7,-10,29.5,-9.6,31.5,-6.8,34]]],
["Western Sahara",0,[[-13.2,27.7,-8.7,27.7,-8.7,26,-12,26,-12,23.4,-13,23,-13,21.3,-17,21.3,-16,23.7,-14.5,26.2]]],
["Mauritania",0,[[-17,21.3,-13,21.3,-13,23,-12,23.4,-12,26,-8.7,26,-8.7,27.3,-4.8,25,-6.5,25,-5.5,15.5,-12.2,15,-14.4,16.6,-16.5,16.1,-16.2,19]]],
["Algeria",0,[[-2.2,35.1,1.5,36.6,8.6,36.9,8.2,34.6,9.5,30.2,9.9,26.5,12,23.5,6,19.4,3.3,19,1.2,20.8,-4.8,25,-8.7,27.3,-8.7,27.7,-5.5,29.7,-3.7,30.9,-1.2,32.1]]],
["Tunisia",0,[[8.6,36.9,10.2,37.3,11,36.9,10.2,34.3,11.5,33,9.5,30.2,8.2,34.6]]],
["Libya",0,[[11.5,33,15.2,32.3,19,30.3,20,32.5,25,31.6,25,22,24.9,20,24,19.5,16,23.4,14.2,22.6,12,23.5,9.9,26.5,9.5,30.2]]],
["Egypt",0,[[25,31.6,29,31,31,31.5,34.2,31.3,34.9,29.5,34.2,27.8,33.5,28.5,32.6,29.9,34,26.5,35.5,24,37,22,25,22]]],
["Sudan",0,[[25,22,37,22,38.5,18,36.5,14.3,36,12.7,34.2,10.6,32.8,12,31,9.8,28,9.4,24,8.7,23.5,10.6,22.5,11,22,13,23,15.7,24,15.7,24,19.5,24.9,20]]],
["South Sudan",0,[[24,8.7,28,9.4,31,9.8,32.8,12,34.2,10.6,34,8.5,33,7.8,35.8,4.8,34,3.8,33,3.7,30.8,3.5,27.5,5,25,5.2,23,6.6]]],
["Eritrea",0,[[36.5,14.3,38.5,18,39.5,15.5,43.2,12.5,42.4,12.5,40,14.5]]],
["Ethiopia",0,[[36.5,14.3,40,14.5,42.4,12.5,43,11.5,42.8,10.9,48,8,47,8,44.9,5,42,4,39,3.5,35.8,4.8,33,7.8,34,8.5,34.2,10.6,36,12.7]]],
["Djibouti",0,[[42.4,12.5,43.2,12.5,43.3,11.5,43,11.5]]],
["Somalia",0,[[42.8,10.9,43.3,11.5,45,10.5,51.2,11.9,50.8,9.5,48,4.5,43.5,.5,41.5,-1.7,41,-.9,41,2.8,42,4,44.9,5,47,8,48,8]]],
["Kenya",0,[[35.8,4.8,39,3.5,41,2.8,41,-.9,41.5,-1.7,39.2,-4.7,37.7,-3.5,34,-1,34,1,34,3.8]]],
["Uganda",0,[[30.8,3.5,33,3.7,34,3.8,34,1,34,-1,29.6,-1,29.6,.5,31,2.2]]],
["Tanzania",0,[[30.5,-1,34,-1,37.7,-3.5,39.2,-4.7,38.8,-6.5,39.5,-8,40.4,-10.4,37.8,-11.7,34.9,-11.5,33,-9.5,30.8,-8.3,29.5,-5,29,-4.4,30.8,-2.4]]],
["Rwanda and Burundi",0,[[29,-1.5,30.5,-1,30.8,-2.4,29,-4.4]]],
["DR Congo",0,[[12.2,-6,13,-5.8,12.5,-5,13.2,-4.7,14.5,-4.8,16,-3.5,16.2,-1.5,17.7,-.5,18,2,18.6,3.5,19.4,5.1,23,4.5,25,5.2,27.5,5,30.8,3.5,31,2.2,29.6,.5,29.6,-1,29,-1.5,29,-4.4,29.5,-5,29.5,-6.5,30.8,-8.3,28.9,-8.5,28.4,-9.5,28.7,-12,29.8,-12.2,29.8,-13.4,27.2,-11.7,24.4,-11,22,-11,21.8,-7.3,19.5,-7,17.6,-8.1,16.6,-5.9]]],
["Congo",0,[[11.2,-4.3,12,-5,13.2,-4.7,14.5,-4.8,16,-3.5,16.2,-1.5,17.7,-.5,18,2,18.6,3.5,16.2,2.2,13.3,2.2,14.5,.9,13.7,-.5,14,-2.5,11.5,-2.5]]],
["Gabon",0,[[9.3,.8,9.8,2.3,13.3,2.2,14.5,.9,13.7,-.5,14,-2.5,11.5,-2.5,11.2,-4.3,9,-1.5]]],
["Equatorial Guinea",0,[[9.5,1,9.8,2.3,11.3,2.2,11.3,1]]],
["Cameroon",0,[[8.5,4.5,9.8,2.3,13.3,2.2,16.2,2.2,14.5,4.5,15,6.5,15.5,7.5,13.9,10,15,12,14.2,13,14,11,13,9,12,7,10,6.5,8.8,5]]],
["Central African Republic",0,[[14.5,4.5,16.2,2.2,18.6,3.5,19.4,5.1,23,4.5,25,5.2,27.5,5,23,6.6,24,8.7,23.5,10.6,22.5,11,19,9,15.5,7.5,15,6.5]]],
["Chad",0,[[16,23.4,24,19.5,24,15.7,23,15.7,22,13,22.5,11,19,9,15.5,7.5,13.9,10,15,12,14.2,13,13.5,14,15.5,16.5,15,20]]],
["Niger",0,[[12,23.5,14.2,22.6,16,23.4,15,20,15.5,16.5,13.5,14,12,13,8.5,13,7,13,4,13.5,3.6,11.7,2.3,12.3,.2,14.8,1,15,3.3,15,3.3,19,6,19.4]]],
["Nigeria",0,[[2.7,6.4,3.6,11.7,4,13.5,7,13,8.5,13,12,13,13.5,14,14.2,13,14,11,13,9,12,7,10,6.5,8.8,5,8.5,4.5,6,4.3,4.4,6.3]]],
["Benin",0,[[1.7,6.2,2.7,6.4,3.6,11.7,2.3,12.3,.9,11,1.6,9.5]]],
["Togo",0,[[1.2,6.1,1.7,6.2,1.6,9.5,.9,11,0,11,.6,8]]],
["Ghana",0,[[-3.1,5.1,1.2,6.1,.6,8,0,11,-2.8,11,-2.8,9.7,-3.2,7]]],
["Burkina Faso",0,[[-5.5,10.4,-2.8,9.7,-2.8,11,0,11,.9,11,2.3,12.3,.2,14.8,-2,14.2,-3.5,13.4,-4.5,12]]],
["Ivory Coast",0,[[-8.6,7.6,-7.5,4.4,-3.1,5.1,-3.2,7,-2.8,9.7,-5.5,10.4,-8,10.2]]],
["Liberia",0,[[-11.4,7,-7.5,4.4,-8.6,7.6,-9.5,8.5,-10.3,8.4]]],
["Sierra Leone",0,[[-13.3,8.5,-11.4,7,-10.3,8.4,-11.2,10,-12.5,9.9]]],
["Guinea",0,[[-15,11,-13.3,9.5,-12.5,9.9,-11.2,10,-10.3,8.4,-9.5,8.5,-8.6,7.6,-8,10.2,-8.5,11.5,-11,12.2,-13.7,12.6]]],
["Guinea-Bissau",0,[[-16.7,12.3,-13.7,12.6,-15,11]]],
["Senegal",0,[[-17.5,14.7,-16.5,16.1,-14.4,16.6,-12.2,15,-11.4,12.4,-13.7,12.6,-16.7,12.3]]],
["Gambia",0,[[-16.8,13.5,-14,13.6,-16.8,13.2]]],
["Mali",0,[[-12.2,15,-5.5,15.5,-6.5,25,-4.8,25,1.2,20.8,3.3,19,3.3,15,1,15,.2,14.8,-2,14.2,-3.5,13.4,-4.5,12,-5.5,10.4,-8,10.2,-8.5,11.5,-11,12.2,-11.4,12.4]]],
["Angola",0,[[11.7,-17.3,13.9,-17.4,18.5,-17.4,21.4,-17.9,22,-16.2,22,-13,24,-13,24,-11,22,-11,21.8,-7.3,19.5,-7,17.6,-8.1,16.6,-5.9,12.2,-6,13.4,-9,13.8,-11,12.5,-13.5]]],
["Zambia",0,[[22,-13,24,-13,24,-11,27.2,-11.7,29.8,-13.4,29.8,-12.2,28.7,-12,28.4,-9.5,28.9,-8.5,30.8,-8.3,33,-9.5,33,-12,33.2,-14,30.2,-15,28.8,-16,27,-17.9,25.2,-17.8,23.4,-17.6,22,-16.2]]],
["Malawi",0,[[33,-9.5,34.9,-11.5,34.5,-14,35.3,-17,34,-15.8,33.2,-14,33,-12]]],
["Mozambique",0,[[34.9,-11.5,37.8,-11.7,40.4,-10.4,40.7,-15,36.8,-18,35,-20,35.5,-24,32.8,-26,32,-26,32,-24,31,-22.3,33,-19.8,32.8,-16.7,30.4,-16,30.2,-15,33.2,-14,34,-15.8,35.3,-17,34.5,-14]]],
["Zimbabwe",0,[[25.2,-17.8,27,-17.9,28.8,-16,30.4,-16,32.8,-16.7,33,-19.8,31,-22.3,29.4,-22.2,26,-19.5]]],
["Botswana",0,[[20,-24.8,20,-22,21,-22,21,-18.2,23.4,-17.6,25.2,-17.8,26,-19.5,29.4,-22.2,27,-23.7,25.6,-25.6,23,-25.3,21,-26.8]]],
["Namibia",0,[[11.7,-17.3,13.9,-17.4,18.5,-17.4,21.4,-17.9,25.2,-17.8,23.4,-18.4,21,-18.2,21,-22,20,-22,20,-28.4,17,-28.9,15,-26.5,14.5,-22.5,12,-18]]],
["South Africa",0,[[17,-28.9,20,-28.4,20,-24.8,21,-26.8,23,-25.3,25.6,-25.6,27,-23.7,29.4,-22.2,31,-22.3,32,-24,32,-26,32.8,-26,32.5,-28.5,30,-31.5,27,-33.8,25,-34,22,-34.2,20,-34.8,18.4,-34.2,18.2,-32]]],
["Lesotho",0,[[27.1,-29.6,28.5,-28.6,29.4,-29.5,28,-30.6]]],
["Swaziland",0,[[31,-25.8,32,-26,32,-27,31,-27]]],
["Madagascar",0,[[49.3,-12,50.5,-15.5,49.5,-17.5,47,-25,45,-25.6,43.5,-23.5,44.3,-20,44,-17,46.5,-15.7]]]];

// ---------- helpers ----------
const blue="#1c75bc",purple="#8a2a94",dark="#1d4d50",grid="#f1f4f7",ink="#111";
const svg=d3.select("#page");
function txt(g,x,y,s,size,weight,color,anchor,width){
  const t=g.append("text").attr("x",x).attr("y",y).text(s).attr("font-size",size).attr("font-weight",weight).style("fill",color).attr("text-anchor",anchor||"start");
  if(width){t.attr("textLength",width).attr("lengthAdjust","spacingAndGlyphs");}
  return t;
}
// one title, several lines: [string, baseline, width]
function titleBlock(g,x,lines,size){
  const t=g.append("text").attr("font-size",size).attr("font-weight",700).style("fill","#0a0a0a");
  lines.forEach(l=>t.append("tspan").attr("x",x).attr("y",l[1]).attr("textLength",l[2]).attr("lengthAdjust","spacingAndGlyphs").text(l[0]));
  return t;
}
// ---------- page header ----------
svg.append("rect").attr("width",2048).attr("height",2650).attr("fill","#fff");
svg.append("rect").attr("width",2048).attr("height",318).attr("fill","#eff7fe");
const head=svg.append("g");
head.append("path").attr("d","M203,272 H186 V185 H271 V222").attr("fill","none").attr("stroke","#000").attr("stroke-width",11).attr("stroke-linejoin","round").attr("stroke-linecap","round");
head.append("path").attr("d","M215,277 V232 H242 V277 M215,254 H242").attr("fill","none").attr("stroke",blue).attr("stroke-width",11).attr("stroke-linejoin","round");
head.append("path").attr("d","M252,232 H289 M270.5,232 V272 M252,272 H289").attr("fill","none").attr("stroke",blue).attr("stroke-width",11);
txt(head,323.5,241,"Artificial Intelligence",29,700,"#111","start",293);
txt(head,323.5,276.5,"Index Report 2023",29,700,"#111","start",254);
txt(head,1861,249,"Chapter 1: Research and Development",31,700,blue,"end",542);
txt(head,1861,287,"1.2 Trends in Significant Machine Learning Systems",26.5,700,blue,"end",664);
txt(head,181,430,"Authorship",37,700,blue,"start",192);
const bodyL=[["Figures 1.2.6 to 1.2.8 look at the total number of",483.5,676],["authors, disaggregated by national affiliation, that",536.5,711],["contributed to the launch of significant machine",589.5,689],["learning systems. As was the case with total systems,",643,763]];
bodyL.forEach(d=>txt(head,181,d[1],d[0],33,400,"#1a1a1a","start",d[2]));
const bodyR=[["in 2022 the United States had the greatest number of",479,765],["authors producing significant machine learning systems,",532.5,812],["with 285, more than double that of the United Kingdom",586,797],["and nearly six times that of China (Figure 1.2.6).",639.5,676]];
bodyR.forEach(d=>txt(head,1054,d[1],d[0],33,400,"#1a1a1a","start",d[2]));

// ---------- Figure 1.2.6 ----------
const f6=svg.append("g");
titleBlock(f6,173,[["Number of Authors of Significant Machine Learning",758.5,801],["Systems by Country, 2022",792.5,404]],34);
txt(f6,173,818,"Source: Epoch and AI Index, 2022 | Chart: 2023 AI Index Report",20.5,400,"#111","start",570);
const bx=d3.scaleLinear().domain([0,300]).range([361.5,950.5]);
const by=d3.scaleBand().domain(barCountries).range([831.3,1425.7]).paddingInner(.52).paddingOuter(.26);
const byC=c=>by(c)+by.bandwidth()/2;
f6.append("g").selectAll("line").data(barTicks).join("line").attr("x1",d=>bx(d)).attr("x2",d=>bx(d)).attr("y1",832).attr("y2",1425).attr("stroke",grid).attr("stroke-width",1.5);
f6.append("g").selectAll("line").data(barCountries).join("line").attr("x1",360).attr("x2",970).attr("y1",byC).attr("y2",byC).attr("stroke",grid).attr("stroke-width",1.5);
f6.append("g").selectAll("rect").data(barValues).join("rect").attr("x",bx(0)).attr("y",(d,i)=>by(barCountries[i])).attr("width",d=>bx(d)-bx(0)).attr("height",by.bandwidth()).attr("fill",blue);
f6.append("g").selectAll("text").data(barValues).join("text").attr("x",d=>bx(d)+5).attr("y",(d,i)=>byC(barCountries[i])+9).text(d=>d).attr("font-size",23).style("fill",blue);
f6.append("g").selectAll("text").data(barCountries).join("text").attr("x",354.5).attr("y",d=>byC(d)+9).attr("text-anchor","end").text(d=>d).attr("font-size",24).style("fill","#111");
const bxAxis=f6.append("g").attr("transform","translate(0,1426)").call(d3.axisBottom(bx).tickValues(barTicks).tickSize(0).tickPadding(18));
bxAxis.select(".domain").attr("d","M358.5,0H970").attr("stroke","#000").attr("stroke-width",3);
bxAxis.selectAll("text").attr("font-size",24).attr("font-family",null).style("fill","#111");
f6.append("line").attr("x1",360).attr("x2",360).attr("y1",832).attr("y2",1427).attr("stroke","#000").attr("stroke-width",3);
txt(f6,666,1486.5,"Number of Authors",24,400,"#111","middle",201);
txt(f6,976,1503.5,"Figure 1.2.6",23.5,700,"#111","end",120);

// ---------- Figure 1.2.7 ----------
const f7=svg.append("g");
titleBlock(f7,1036.5,[["Number of Authors of Significant Machine Learning",750.5,802],["Systems by Select Geographic Area, 2002–22",784.5,711]],34);
txt(f7,1036.5,809,"Source: Epoch and AI Index, 2022 | Chart: 2023 AI Index Report",20.5,400,"#111","start",570);
const lx=d3.scaleLinear().domain([2002,2022]).range([1123,1593]);
const ly=d3.scaleLinear().domain([0,400]).range([1385,844.5]);
f7.append("g").selectAll("line").data(lineXTicks).join("line").attr("x1",d=>lx(d)).attr("x2",d=>lx(d)).attr("y1",832).attr("y2",1420).attr("stroke",grid).attr("stroke-width",1.5);
f7.append("g").selectAll("line").data(lineYTicks).join("line").attr("x1",1115).attr("x2",1593).attr("y1",d=>ly(d)).attr("y2",d=>ly(d)).attr("stroke",grid).attr("stroke-width",1.5);
const lineGen=d3.line().x((d,i)=>lx(years[i])).y(d=>ly(d));
[[usAuthors,blue],[euAuthors,purple],[cnAuthors,dark]].forEach(s=>{
  f7.append("path").attr("d",lineGen(s[0])).attr("fill","none").attr("stroke",s[1]).attr("stroke-width",3.8).attr("stroke-linejoin","miter");
});
const lyAxis=f7.append("g").attr("transform","translate(1115,0)").call(d3.axisLeft(ly).tickValues(lineYTicks).tickSize(0).tickPadding(8));
lyAxis.select(".domain").attr("d","M0,832V1421").attr("stroke","#000").attr("stroke-width",3);
lyAxis.selectAll("text").attr("font-size",24).attr("font-family",null).style("fill","#111");
const lxAxis=f7.append("g").attr("transform","translate(0,1420)").call(d3.axisBottom(lx).tickValues(lineXTicks).tickFormat(d3.format("d")).tickSize(0));
lxAxis.select(".domain").attr("d","M1113.5,0H1593").attr("stroke","#000").attr("stroke-width",3);
lxAxis.selectAll("text").attr("font-size",23).attr("font-family",null).style("fill","#111").attr("text-anchor","start").attr("dy",null).attr("y",0).attr("transform",d=>"translate(-13,18.5) rotate(90)");
txt(f7,0,0,"Number of Authors",24,400,"#111","middle",201).attr("transform","translate(1056,1125) rotate(-90)");
txt(f7,1604,1008,"285, United States",24,400,blue,"start",192);
txt(f7,1604,1168.5,"155, European Union and",24,400,purple,"start",259);
txt(f7,1734,1199,"United Kingdom",24,400,purple,"middle",170);
txt(f7,1604,1328,"49, China",24,400,dark,"start",100);
txt(f7,1862,1503.5,"Figure 1.2.7",23.5,700,"#111","end",120);

// ---------- Figure 1.2.8 map ----------
const f8=svg.append("g");
txt(f8,181,1605.5,"Number of Authors of Significant Machine Learning Systems by Country, 2002–22 (Sum)",34,700,"#0a0a0a","start",1375);
txt(f8,181,1631.5,"Source: AI Index, 2022 | Chart: 2023 AI Index Report",20.5,400,"#111","start",470);
const lenAt=d3.scaleLinear().domain(robLat).range(robLen);
const hgtAt=d3.scaleLinear().domain(robLat).range(robHgt);
const mapX=d3.scaleLinear().domain([-180,180]).range([1019-180*4.28,1019+180*4.28]);
const mapY=d3.scaleLinear().domain([0,1]).range([2051.7,2051.7-400.8]);
const robinson=d3.geoTransform({point(lon,lat){
  const a=Math.abs(lat);
  const px=mapX(0)+(mapX(lon)-mapX(0))*lenAt(a);
  const py=lat>=0?mapY(hgtAt(a)):2*mapY(0)-mapY(hgtAt(a));
  this.stream.point(px,py);
}});
const mapPath=d3.geoPath(robinson);
function toFeature(c){
  const rings=c[2].map(flat=>{const r=d3.range(0,flat.length,2).map(i=>[flat[i],flat[i+1]]);r.push(r[0]);return [r];});
  return {type:"Feature",properties:{name:c[0],bin:c[1]},geometry:{type:"MultiPolygon",coordinates:rings}};
}
const features=[...northAmerica,...southAmerica,...europe,...asia,...oceania,...africa].map(toFeature);
const mapG=f8.append("g").attr("stroke-linejoin","round");
const ordered=features.slice().sort((a,b)=>(a.properties.bin>0)-(b.properties.bin>0));
mapG.selectAll("path").data(ordered).join("path").attr("d",mapPath)
  .attr("fill",d=>legendColors[d.properties.bin])
  .attr("stroke",d=>d.properties.bin?"#3f4a4e":"#0c0c0c")
  .attr("stroke-width",2);
// legend
f8.append("rect").attr("x",209.5).attr("y",2143).attr("width",196).attr("height",300).attr("fill","#fff").attr("stroke","#000").attr("stroke-width",2.5);
const legY=d3.scaleLinear().domain([0,7]).range([2168,2416.5]);
f8.append("g").selectAll("rect").data(legendColors).join("rect").attr("x",(d,i)=>i?235:236).attr("y",(d,i)=>legY(i)-(i?10:9)).attr("width",(d,i)=>i?20.5:19).attr("height",(d,i)=>i?20.5:18.5).attr("fill",d=>d).attr("stroke",(d,i)=>i?"none":"#000").attr("stroke-width",2);
f8.append("g").selectAll("text").data(legendLabels).join("text").attr("x",277).attr("y",(d,i)=>legY(i)+8.5).text(d=>d).attr("font-size",22.5).style("fill","#111");
txt(f8,1862,2401,"Figure 1.2.8",23.5,700,"#111","end",122);

// ---------- footer ----------
const foot=svg.append("g");
foot.append("line").attr("x1",184).attr("x2",1864).attr("y1",2483).attr("y2",2483).attr("stroke",blue).attr("stroke-width",6).attr("stroke-linecap","round");
const arrow=(x,c)=>foot.append("path").attr("transform",`translate(${x},2517)`).attr("d","M1,-5 L7,-11 M1,-5 L8,-1 M1,-5 H14 Q22,-5 22,3 Q22,12 12,12").attr("fill","none").attr("stroke",c).attr("stroke-width",3.2);
arrow(181,"#111");arrow(511,blue);
txt(foot,216,2528,"Table of Contents",27,700,"#111","start",219);
txt(foot,545,2528,"Chapter 1 Preview",27,700,blue,"start",224);
txt(foot,1867,2528,"53",26,400,"#111","end",32);
</script></body></html>
